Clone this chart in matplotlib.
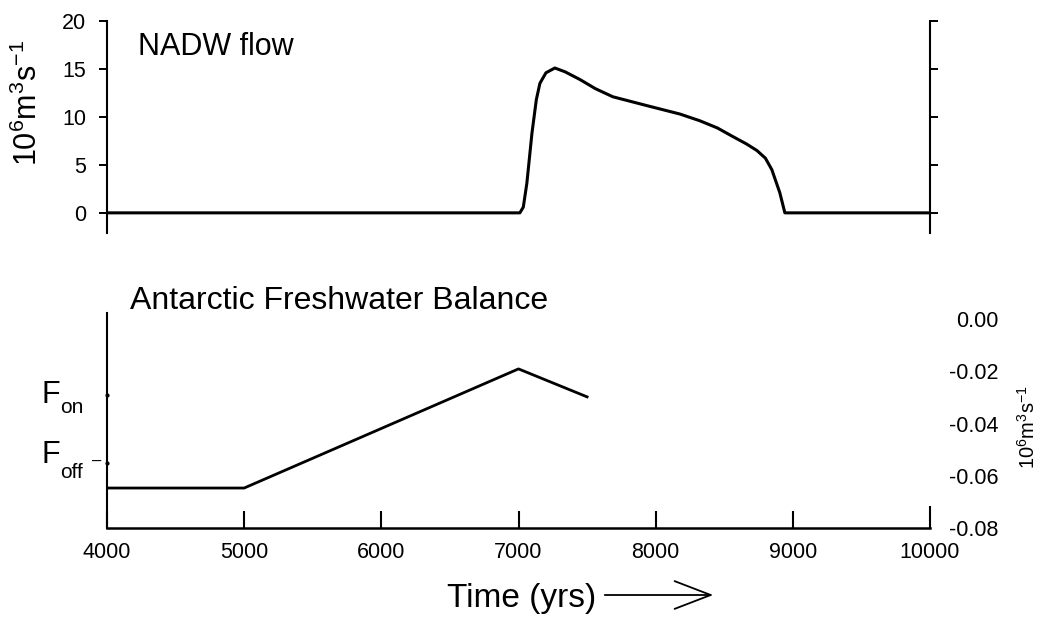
import numpy as np
import matplotlib
matplotlib.use("Agg")
import matplotlib.pyplot as plt

plt.rcParams['font.family'] = ['Liberation Sans', 'DejaVu Sans']
plt.rcParams['mathtext.fontset'] = 'custom'
plt.rcParams['mathtext.rm'] = 'Liberation Sans'
plt.rcParams['mathtext.it'] = 'Liberation Sans'
plt.rcParams['mathtext.default'] = 'regular'

# NADW overturning (10^6 m^3/s)
nadw_time = [4000, 7010, 7035, 7061, 7098, 7130, 7156, 7200, 7265, 7340, 7448, 7560,
             7688, 7930, 8177, 8322, 8450, 8563, 8660, 8738, 8800, 8847, 8905, 8942, 10000]
nadw_flow = [0, 0, 0.6, 3.1, 8.3, 11.8, 13.5, 14.6, 15.1, 14.7, 13.9, 12.95,
             12.1, 11.2, 10.3, 9.6, 8.85, 7.95, 7.2, 6.5, 5.7, 4.5, 2.1, 0, 0]

# Antarctic freshwater balance (10^6 m^3/s)
bal_time = [4000, 5000, 7000, 7500]
bal_flux = [-0.0647, -0.0647, -0.0191, -0.0298]
F_ON = -0.029
F_OFF = -0.0552

xticks = [4000, 5000, 6000, 7000, 8000, 9000, 10000]
top_yticks = [0, 5, 10, 15, 20]
bot_yticks = [0.00, -0.02, -0.04, -0.06, -0.08]

W, H = 1049, 631
fig = plt.figure(figsize=(W / 100, H / 100), dpi=100)
fig.patch.set_facecolor('white')

def px(x, y):
    return x / W, 1 - y / H

left, right = 107, 930
ax1 = fig.add_axes([left / W, 1 - 233 / H, (right - left) / W, (233 - 21) / H])
ax2 = fig.add_axes([left / W, 1 - 528 / H, (right - left) / W, (528 - 313) / H])

# top panel
ax1.plot(nadw_time, nadw_flow, color='k', lw=2.2, solid_joinstyle='round')
ax1.set_xlim(4000, 10000)
ax1.set_ylim(-2.1, 20)
ax1.spines['top'].set_visible(False)
ax1.spines['bottom'].set_visible(False)
for s in ['left', 'right']:
    ax1.spines[s].set_linewidth(1.5)
ax1.set_xticks([])
ax1.set_yticks(top_yticks)
ax1.tick_params(axis='y', direction='out', length=6, width=1.4, labelsize=15.5, pad=9,
                left=True, right=True, labelright=False)

# bottom panel
ax2.plot(bal_time, bal_flux, color='k', lw=2.0)
ax2.set_xlim(4000, 10000)
ax2.set_ylim(-0.08, 0.0023)
ax2.spines['top'].set_visible(False)
ax2.spines['right'].set_visible(False)
ax2.spines['left'].set_linewidth(1.5)
ax2.spines['bottom'].set_linewidth(1.8)
ax2.set_xticks(xticks)
ax2.set_xticklabels([str(t) for t in xticks])
ax2.tick_params(axis='x', direction='in', length=12, width=1.5, labelsize=15.5, pad=10)
ax2.xaxis.get_major_ticks()[-1].tick1line.set_markersize(16)
ax2.yaxis.tick_right()
ax2.set_yticks(bot_yticks)
ax2.set_yticklabels(['%.2f' % v for v in bot_yticks])
ax2.tick_params(axis='y', length=0, labelsize=15.5, pad=49)
for lbl in ax2.get_yticklabels():
    lbl.set_horizontalalignment('right')

# small marks on the left spine
ax2.plot([4000, 4000], [F_ON, F_OFF], 'k.', ms=4, clip_on=False)

# F_on / F_off labels
for val, sub, dy_f, dy_s in [(F_ON, 'on', 0, -13), (F_OFF, 'off', 8, -9)]:
    ax2.annotate('F', xy=(0, val), xycoords=('axes fraction', 'data'),
                 xytext=(-65, dy_f), textcoords='offset pixels',
                 fontsize=22, va='center', ha='left')
    ax2.annotate(sub, xy=(0, val), xycoords=('axes fraction', 'data'),
                 xytext=(-47, dy_s), textcoords='offset pixels',
                 fontsize=15, va='center', ha='left')
ax2.annotate('–', xy=(0, F_OFF), xycoords=('axes fraction', 'data'),
             xytext=(-15, 2), textcoords='offset pixels',
             fontsize=12, va='center', ha='left')

# titles and labels
fig.text(*px(138, 55), 'NADW flow', fontsize=22, va='baseline', ha='left')
fig.text(*px(130, 309), 'Antarctic Freshwater Balance', fontsize=23, va='baseline', ha='left')
fig.text(*px(28, 103), r'10$^6$m$^3$s$^{-1}$', fontsize=22, rotation=90,
         va='center', ha='center')
fig.text(*px(1028, 427), r'10$^6$m$^3$s$^{-1}$', fontsize=14.5, rotation=90,
         va='center', ha='center')
fig.text(*px(447, 607), 'Time (yrs)', fontsize=24, va='baseline', ha='left')
fig.add_artist(matplotlib.patches.FancyArrowPatch(
    px(602, 595), px(716, 595), transform=fig.transFigure,
    arrowstyle='->,head_length=1.3,head_width=0.5', mutation_scale=20,
    lw=1.3, color='k'))

fig.savefig('out.png', dpi=100, facecolor='white')
